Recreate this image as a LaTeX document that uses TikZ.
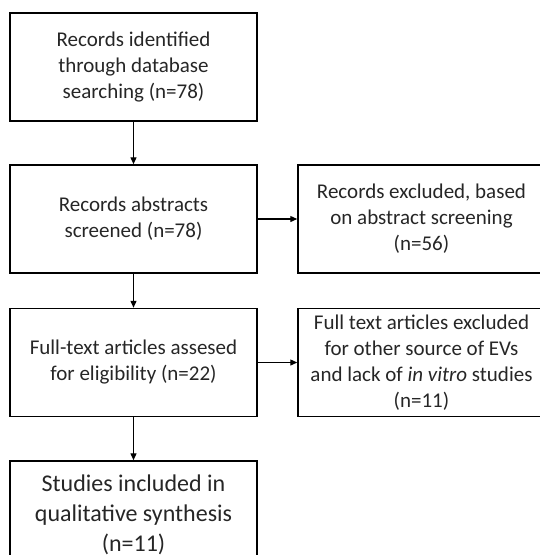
\documentclass[tikz,border=0pt]{standalone}
\usepackage{fontspec}
\setmainfont{Carlito}
\usepackage{tikz}
\usetikzlibrary{arrows.meta}
\definecolor{flowtext}{RGB}{38,38,38}

\begin{document}
\begin{tikzpicture}[x=1pt, y=-1pt,
  box/.style={draw=black, line width=1.5pt, minimum width=247pt, minimum height=108pt, inner sep=0pt, align=center, text=flowtext, font=\fontsize{21}{26}\selectfont},
  arr/.style={-{Triangle[length=7pt, width=6pt]}, line width=1.3pt}
]
\useasboundingbox (0,0) rectangle (539,555);
\node[box] (ident) at (133.5,67) {Records identified\\through database\\searching (n=78)};
\node[box] (screen) at (133.5,219) {Records abstracts\\screened (n=78)};
\node[box] (excl) at (421.5,219) {Records excluded, based\\on abstract screening\\(n=56)};
\node[box] (full) at (133.5,362.5) {Full-text articles assesed\\for eligibility (n=22)};
\node[box] (fullexcl) at (421.5,362.5) {Full text articles excluded\\for other source of EVs\\and lack of \textit{in vitro} studies\\(n=11)};
\node[box, font=\fontsize{24}{30}\selectfont] (incl) at (133.5,515) {Studies included in\\qualitative synthesis\\(n=11)};
\draw[arr] (ident) -- (screen);
\draw[arr] (screen) -- (excl);
\draw[arr] (screen) -- (full);
\draw[arr] (full) -- (fullexcl);
\draw[arr] (full) -- (incl);
\end{tikzpicture}
\end{document}
